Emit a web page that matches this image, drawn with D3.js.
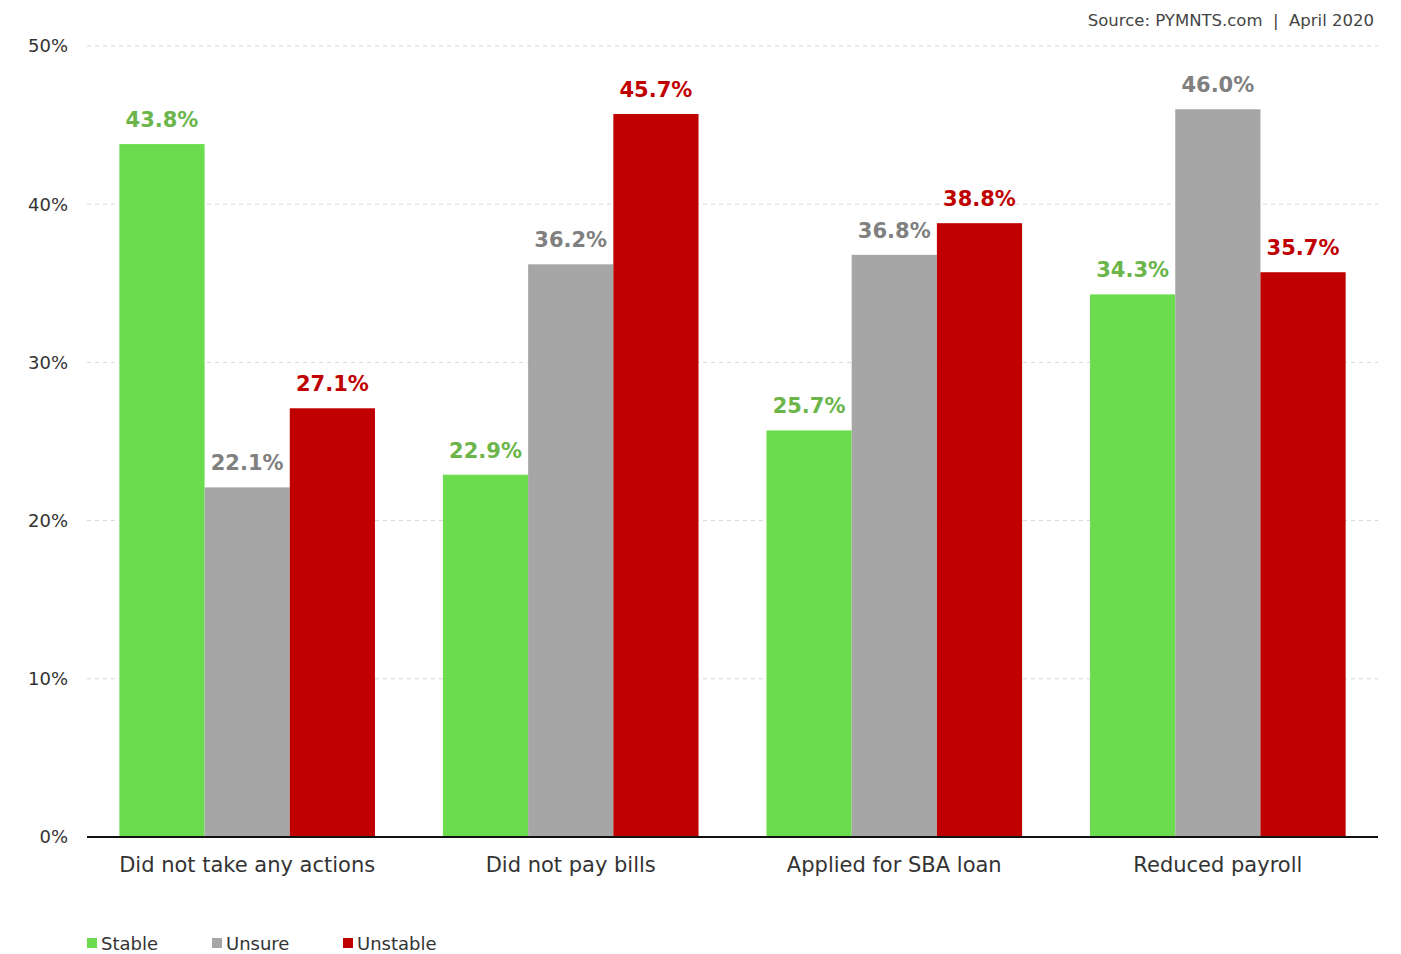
<!DOCTYPE html>
<html>
<head>
<meta charset="utf-8">
<script src="https://cdn.jsdelivr.net/npm/d3@7"></script>
<style>
  html, body { margin: 0; padding: 0; background: #fff; }
  svg text { font-family: "DejaVu Sans", "Noto Sans", sans-serif; }
</style>
</head>
<body>
<svg id="chart" width="1401" height="954"></svg>
<script>
// Survey actions by business outlook
const categories = ["Did not take any actions", "Did not pay bills", "Applied for SBA loan", "Reduced payroll"];
const seriesNames = ["Stable", "Unsure", "Unstable"];
const stable = [43.8, 22.9, 25.7, 34.3];
const unsure = [22.1, 36.2, 36.8, 46.0];
const unstable = [27.1, 45.7, 38.8, 35.7];
const yTicks = [0, 10, 20, 30, 40, 50];

const seriesValues = [stable, unsure, unstable];
const barColors = ["#6cdc4f", "#a6a6a6", "#c00000"];
const labelColors = ["#6bb54a", "#808080", "#c00000"];

const svg = d3.select("#chart");
const margin = { left: 87, right: 23, top: 46, bottom: 117 };
const W = 1401, H = 954;

const x0 = d3.scaleBand()
  .domain(categories)
  .range([margin.left, W - margin.right])
  .paddingInner(0.21)
  .paddingOuter(0.1);

const x1 = d3.scaleBand()
  .domain(seriesNames)
  .range([0, x0.bandwidth()]);

const y = d3.scaleLinear()
  .domain([0, 50])
  .range([H - margin.bottom, margin.top]);

// dashed gridlines
svg.append("g")
  .selectAll("line")
  .data(yTicks.filter(d => d > 0))
  .join("line")
  .attr("x1", margin.left)
  .attr("x2", W - margin.right)
  .attr("y1", d => y(d))
  .attr("y2", d => y(d))
  .attr("stroke", "#d6d6d6")
  .attr("stroke-width", 1)
  .attr("stroke-dasharray", "4,4");

// y tick labels
svg.append("g")
  .selectAll("text")
  .data(yTicks)
  .join("text")
  .attr("x", 68)
  .attr("y", d => y(d))
  .attr("dy", "0.35em")
  .attr("text-anchor", "end")
  .attr("fill", "#333")
  .attr("font-size", 18)
  .text(d => d + "%");

// bars
const rows = categories.map((c, i) => ({
  cat: c,
  vals: seriesNames.map((s, j) => ({ s, j, v: seriesValues[j][i] }))
}));

const groups = svg.append("g")
  .selectAll("g")
  .data(rows)
  .join("g")
  .attr("transform", d => `translate(${x0(d.cat)},0)`);

groups.selectAll("rect")
  .data(d => d.vals)
  .join("rect")
  .attr("x", d => x1(d.s))
  .attr("y", d => y(d.v))
  .attr("width", x1.bandwidth())
  .attr("height", d => y(0) - y(d.v))
  .attr("fill", d => barColors[d.j]);

groups.selectAll("text.val")
  .data(d => d.vals)
  .join("text")
  .attr("class", "val")
  .attr("x", d => x1(d.s) + x1.bandwidth() / 2)
  .attr("y", d => y(d.v) - 17)
  .attr("text-anchor", "middle")
  .attr("font-size", 21)
  .attr("font-weight", 700)
  .attr("fill", d => labelColors[d.j])
  .text(d => d.v.toFixed(1) + "%");

// baseline
svg.append("line")
  .attr("x1", margin.left)
  .attr("x2", W - margin.right)
  .attr("y1", y(0))
  .attr("y2", y(0))
  .attr("stroke", "#111")
  .attr("stroke-width", 2);

// category labels
svg.append("g")
  .selectAll("text")
  .data(categories)
  .join("text")
  .attr("x", d => x0(d) + x0.bandwidth() / 2)
  .attr("y", y(0) + 35)
  .attr("text-anchor", "middle")
  .attr("font-size", 21)
  .attr("fill", "#333")
  .text(d => d);

// legend
const legendX = [87, 212, 343];
const legend = svg.append("g")
  .selectAll("g")
  .data(seriesNames)
  .join("g")
  .attr("transform", (d, i) => `translate(${legendX[i]},944)`);
legend.append("rect")
  .attr("x", 0).attr("y", -6)
  .attr("width", 10).attr("height", 10)
  .attr("fill", (d, i) => barColors[i]);
legend.append("text")
  .attr("x", 14)
  .attr("y", 0)
  .attr("dy", "0.35em")
  .attr("font-size", 18)
  .attr("fill", "#333")
  .text(d => d);

// source note
svg.append("text")
  .attr("x", 1374)
  .attr("y", 26)
  .attr("text-anchor", "end")
  .attr("font-size", 16.5)
  .attr("fill", "#444")
  .attr("xml:space", "preserve")
  .text("Source: PYMNTS.com  |  April 2020");
</script>
</body>
</html>
